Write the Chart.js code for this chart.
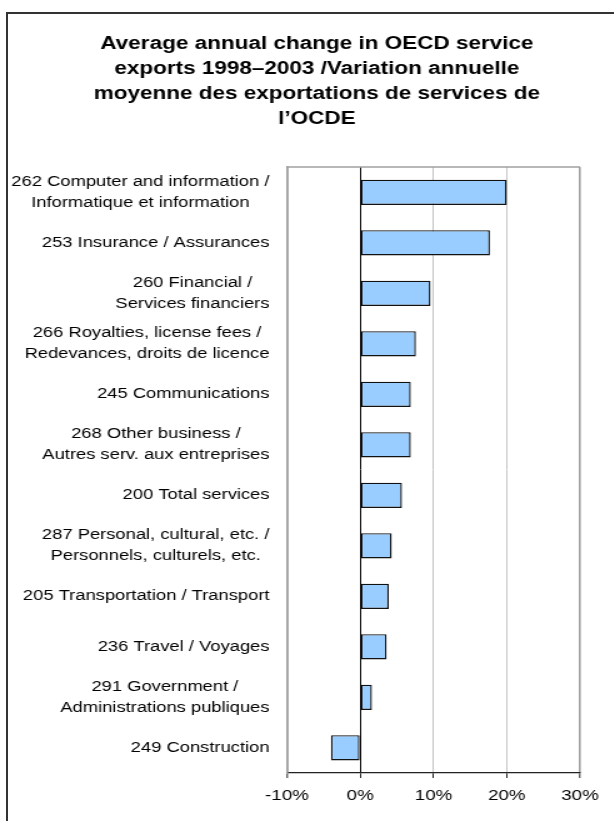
<!DOCTYPE html>
<html>
<head>
<meta charset="utf-8">
<script src="https://cdn.jsdelivr.net/npm/chart.js@4.4.1/dist/chart.umd.min.js"></script>
<style>
  html, body { margin: 0; padding: 0; background: #fff; }
  body { width: 614px; height: 821px; overflow: hidden; position: relative; }
  #frame {
    position: absolute; left: 6px; top: 12px; right: -20px; bottom: -20px;
    border-left: 2px solid #333; border-top: 2px solid #333;
  }
  /* the source image is stretched horizontally, so the whole chart is drawn narrow and scaled */
  #wrap {
    position: absolute; left: 0; top: 0; width: 507px; height: 821px;
    transform: scaleX(1.25); transform-origin: 0 0;
  }
</style>
</head>
<body>
<div id="frame"></div>
<div id="wrap"><canvas id="servChart"></canvas></div>
<script>
'use strict';

const FONT = "'Liberation Sans', Arial, sans-serif";

const TITLE_LINES = [
  'Average annual change in OECD service',
  'exports 1998\u20132003 /Variation annuelle',
  'moyenne des exportations de services de',
  'l\u2019OCDE'
];

// categories, top to bottom
const CATEGORIES = [
  ['262 Computer and information /', 'Informatique et information'],
  '253 Insurance / Assurances',
  ['260 Financial /', 'Services financiers'],
  ['266 Royalties, license fees /', 'Redevances, droits de licence'],
  '245 Communications',
  ['268 Other business /', 'Autres serv. aux entreprises'],
  '200 Total services',
  ['287 Personal, cultural, etc. /', 'Personnels, culturels, etc.'],
  '205 Transportation / Transport',
  '236 Travel / Voyages',
  ['291 Government /', 'Administrations publiques'],
  '249 Construction'
];

// average annual change, %
const CHANGE = [20.0, 17.7, 9.6, 7.6, 6.9, 6.9, 5.7, 4.3, 3.9, 3.6, 1.6, -4.0];

const X_MIN = -10, X_MAX = 30, X_STEP = 10;

// category labels: right-aligned block, wrapped lines centred within it
const catLabels = {
  id: 'catLabels',
  afterDraw(chart) {
    const ys = chart.scales.y;
    const ctx = chart.ctx;
    const right = ys.right - 14;
    const lh = 21;
    ctx.save();
    ctx.font = '14.7px ' + FONT;
    ctx.fillStyle = '#000';
    ctx.textAlign = 'center';
    ctx.textBaseline = 'middle';
    CATEGORIES.forEach((lab, i) => {
      const lines = Array.isArray(lab) ? lab : [lab];
      const w = Math.max(...lines.map(l => ctx.measureText(l).width));
      const cx = right - w / 2;
      const cy = ys.getPixelForValue(i);
      lines.forEach((l, j) => {
        ctx.fillText(l, cx, cy + (j - (lines.length - 1) / 2) * lh);
      });
    });
    ctx.restore();
  }
};

// grey top edge of the plot area
const plotTop = {
  id: 'plotTop',
  afterDraw(chart) {
    const { ctx, chartArea: a } = chart;
    ctx.save();
    ctx.strokeStyle = '#a0a0a0';
    ctx.lineWidth = 1.6;
    ctx.beginPath();
    ctx.moveTo(a.left, a.top);
    ctx.lineTo(a.right, a.top);
    ctx.stroke();
    ctx.restore();
  }
};

new Chart(document.getElementById('servChart'), {
  type: 'bar',
  data: {
    labels: CATEGORIES,
    datasets: [{
      data: CHANGE,
      backgroundColor: '#99ccff',
      borderColor: '#111',
      borderWidth: 1.4,
      borderSkipped: false,
      barPercentage: 0.5,
      categoryPercentage: 1
    }]
  },
  options: {
    indexAxis: 'y',
    animation: false,
    responsive: true,
    maintainAspectRatio: false,
    // equal side padding keeps the title centred on the full width
    layout: { padding: { left: 43, right: 43, top: 0, bottom: 0 } },
    scales: {
      x: {
        min: X_MIN, max: X_MAX,
        afterFit: s => { s.height = 48; },
        ticks: {
          stepSize: X_STEP,
          color: '#000',
          padding: 9,
          font: { family: FONT, size: 15 },
          callback: v => v + '%'
        },
        grid: {
          color: c => c.tick.value === 0 ? '#000'
            : (c.tick.value === X_MIN || c.tick.value === X_MAX) ? '#a0a0a0' : '#c4c4c4',
          lineWidth: c => (c.tick.value === X_MIN || c.tick.value === X_MAX) ? 1.6 : 1,
          tickColor: '#222',
          tickLength: 5,
          tickWidth: 1
        },
        border: { display: true, color: '#222', width: 1.3 }
      },
      y: {
        afterFit: s => { s.width = 186.6; },
        ticks: { display: false },
        grid: { display: false },
        border: { display: true, color: '#a0a0a0', width: 1.6 }
      }
    },
    plugins: {
      legend: { display: false },
      tooltip: { enabled: false },
      title: {
        display: true,
        text: TITLE_LINES,
        color: '#000',
        font: { family: FONT, size: 18, weight: 'bold', lineHeight: 25 / 18 },
        padding: { top: 32, bottom: 35 }
      }
    }
  },
  plugins: [catLabels, plotTop]
});
</script>
</body>
</html>
